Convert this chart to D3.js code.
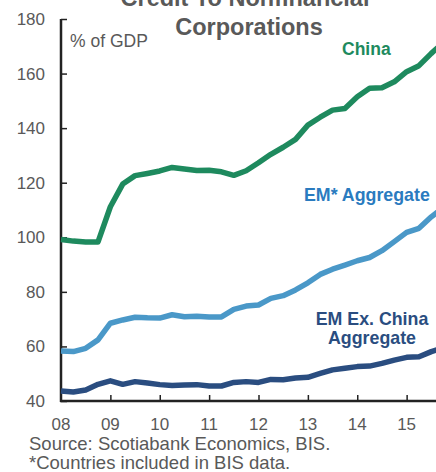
<!DOCTYPE html>
<html>
<head>
<meta charset="utf-8">
<script src="https://cdn.jsdelivr.net/npm/d3@7"></script>
<style>
  html, body { margin: 0; padding: 0; background: #fff; overflow: hidden; }
  svg { display: block; font-family: "Liberation Sans", Arial, sans-serif; }
</style>
</head>
<body>
<script>
// quarterly, 2008Q1 onwards (% of GDP)
var startYear = 2008;
var china = [99.2, 98.6, 98.3, 98.3, 111.2, 119.5, 122.6, 123.4, 124.3, 125.6, 125.0, 124.5,
             124.6, 124.0, 122.7, 124.4, 127.3, 130.4, 133.0, 135.9, 141.1, 144.0, 146.6, 147.2,
             151.5, 154.6, 154.8, 157.0, 160.7, 162.9, 167.4, 171.5];
var emAggregate = [58.3, 58.1, 59.3, 62.4, 68.5, 69.7, 70.7, 70.5, 70.4, 71.6, 70.9, 71.1,
                   70.8, 70.8, 73.6, 74.8, 75.2, 77.6, 78.6, 80.7, 83.3, 86.4, 88.3, 89.8,
                   91.4, 92.6, 95.1, 98.4, 101.8, 103.3, 107.5, 111.0];
var emExChina = [43.7, 43.3, 44.0, 46.1, 47.4, 46.1, 47.1, 46.6, 46.0, 45.7, 45.9, 46.0,
                 45.5, 45.5, 46.8, 47.1, 46.8, 47.9, 47.8, 48.4, 48.7, 50.1, 51.4, 52.0,
                 52.6, 52.8, 53.8, 55.0, 56.0, 56.2, 58.1, 59.5];
var yTicks = [40, 60, 80, 100, 120, 140, 160, 180];
var xTickYears = [2008, 2009, 2010, 2011, 2012, 2013, 2014, 2015];

var width = 436, height = 472;
var grey = "#595959";

var svg = d3.select("body").append("svg")
    .attr("width", width)
    .attr("height", height);

var x = d3.scaleLinear().domain([2008, 2016]).range([61, 456]);
var y = d3.scaleLinear().domain([40, 180]).range([401, 19]);

function qx(i) { return startYear + i / 4; }

// axes
var yAxis = svg.append("g")
    .attr("transform", "translate(61,0)")
    .call(d3.axisRight(y).tickValues(yTicks).tickSize(6).tickFormat(""));
var xAxis = svg.append("g")
    .attr("transform", "translate(0,401)")
    .call(d3.axisTop(x).tickValues(xTickYears.slice(1)).tickSize(6).tickFormat(""));
[yAxis, xAxis].forEach(function(a) {
    a.select(".domain").remove();
    a.selectAll("line").attr("stroke", "#222").attr("stroke-width", 1.5);
});
svg.append("line").attr("x1", 61).attr("x2", 61).attr("y1", 19).attr("y2", 402)
    .attr("stroke", "#222").attr("stroke-width", 2.5);
svg.append("line").attr("x1", 60).attr("x2", width).attr("y1", 401).attr("y2", 401)
    .attr("stroke", "#222").attr("stroke-width", 2.5);

svg.selectAll(".ylab").data(yTicks).enter().append("text")
    .attr("x", 45).attr("y", function(d) { return y(d) + 6; })
    .attr("text-anchor", "end").attr("font-size", 17).attr("fill", grey)
    .text(function(d) { return d; });

svg.selectAll(".xlab").data(xTickYears).enter().append("text")
    .attr("x", function(d) { return x(d); }).attr("y", 430)
    .attr("text-anchor", "middle").attr("font-size", 17).attr("fill", grey)
    .text(function(d) { return String(d).slice(2); });

// lines
var line = d3.line()
    .x(function(d, i) { return x(qx(i)); })
    .y(function(d) { return y(d); });

var series = [
    { values: china, color: "#1e8a5e" },
    { values: emAggregate, color: "#4a98c8" },
    { values: emExChina, color: "#2a4d80" }
];
svg.selectAll(".series").data(series).enter().append("path")
    .attr("d", function(d) { return line(d.values); })
    .attr("fill", "none")
    .attr("stroke", function(d) { return d.color; })
    .attr("stroke-width", 5.5)
    .attr("stroke-linejoin", "round");

// titles and labels
svg.append("text").attr("x", 245).attr("y", 6).attr("text-anchor", "middle")
    .attr("font-size", 23.5).attr("font-weight", "bold").attr("fill", grey)
    .text("Credit To Nonfinancial");
svg.append("text").attr("x", 249).attr("y", 34.5).attr("text-anchor", "middle")
    .attr("font-size", 23.5).attr("font-weight", "bold").attr("fill", grey)
    .text("Corporations");
svg.append("text").attr("x", 70).attr("y", 47).attr("font-size", 17.5).attr("fill", grey)
    .text("% of GDP");

svg.append("text").attr("x", 342).attr("y", 55).attr("font-size", 17.5)
    .attr("font-weight", "bold").attr("fill", "#1e8a5e").text("China");
svg.append("text").attr("x", 304).attr("y", 201).attr("font-size", 17.8)
    .attr("font-weight", "bold").attr("fill", "#2a7bbf").text("EM* Aggregate");
svg.append("text").attr("x", 372).attr("y", 325).attr("text-anchor", "middle").attr("font-size", 17.8)
    .attr("font-weight", "bold").attr("fill", "#2a4d80").text("EM Ex. China");
svg.append("text").attr("x", 372).attr("y", 344).attr("text-anchor", "middle").attr("font-size", 17.8)
    .attr("font-weight", "bold").attr("fill", "#2a4d80").text("Aggregate");

svg.append("text").attr("x", 29).attr("y", 450).attr("font-size", 18.5).attr("fill", grey)
    .text("Source: Scotiabank Economics, BIS.");
svg.append("text").attr("x", 29).attr("y", 469).attr("font-size", 18.5).attr("fill", grey)
    .text("*Countries included in BIS data.");
</script>
</body>
</html>
